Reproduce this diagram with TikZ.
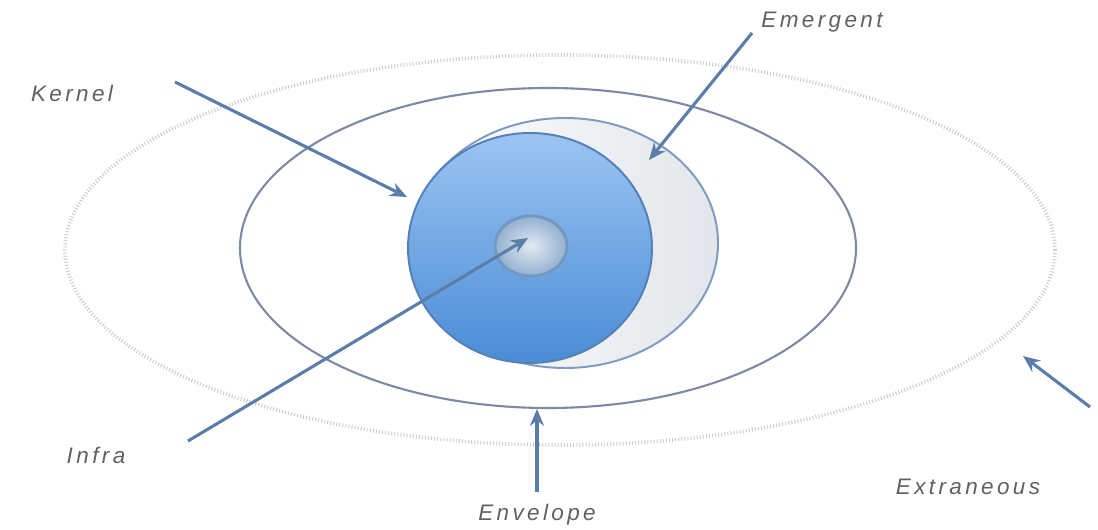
\documentclass[tikz,border=0pt]{standalone}
\usepackage{fontspec}
\setmainfont{Liberation Sans}
\usetikzlibrary{shapes.geometric,arrows.meta}
\definecolor{bleufleche}{HTML}{5A7EA8}
\definecolor{bleuhaut}{HTML}{9CC4F2}
\definecolor{bleubas}{HTML}{4A8CD6}
\definecolor{bleubord}{HTML}{5580B8}
\definecolor{pale}{HTML}{E3EAF3}
\definecolor{paleborder}{HTML}{7F9BBF}
\definecolor{gristrait}{HTML}{7D8AA3}
\begin{document}
\begin{tikzpicture}[x=0.025cm,y=-0.025cm]
	% Styles
	\tikzstyle{fleche}=[-{Stealth[length=12pt,width=10pt]},line width=2.2pt,bleufleche]
	\tikzstyle{etiquette}=[font=\itshape\fontsize{16}{18}\selectfont\addfontfeatures{LetterSpace=15},text=black!62]
	\tikzstyle{zone}=[ellipse,inner sep=0pt,outer sep=0pt]
	% Dimensions
	\def\px{0.025cm}
	\useasboundingbox (0,0) rectangle (1098,530);
	% Zones
	\node[zone,draw=black!20,line width=2.6pt,dash pattern=on 0.7pt off 1.5pt,
		minimum width=990*\px,minimum height=390*\px] (exterieur) at (560,250) {};
	\node[zone,draw=gristrait,line width=1.5pt,
		minimum width=616*\px,minimum height=320*\px] (enveloppe) at (548,248) {};
	\node[zone,draw=paleborder,line width=1.4pt,left color=white,right color=pale!80!gray!60,
		minimum width=306*\px,minimum height=250*\px] (emergent) at (565,243) {};
	\node[zone,draw=bleubord,line width=1.4pt,top color=bleuhaut,bottom color=bleubas,
		minimum width=244*\px,minimum height=230*\px] (noyau) at (530,248) {};
	\node[zone,draw=paleborder!80!bleubas,line width=2pt,inner color=pale,outer color=bleuhaut!70!gray,
		minimum width=72*\px,minimum height=60*\px] (infra) at (531,246) {};
	% Etiquettes
	\node[etiquette] (lKernel) at (72,93) {Kernel};
	\node[etiquette] (lEmergent) at (822,22) {Emergent};
	\node[etiquette] (lInfra) at (96,455) {Infra};
	\node[etiquette] (lEnvelope) at (537,515) {Envelope};
	\node[etiquette] (lExtraneous) at (968,487) {Extraneous};
	% Points
	\coordinate (tKernel) at (175,82);
	\coordinate (hKernel) at (407,197);
	\coordinate (tEmergent) at (752,33);
	\coordinate (hEmergent) at (649,160);
	\coordinate (tInfra) at (188,441);
	\coordinate (hInfra) at (528,238);
	\coordinate (tEnvelope) at (537,492);
	\coordinate (hEnvelope) at (537,409);
	\coordinate (tExtraneous) at (1090,407);
	\coordinate (hExtraneous) at (1023,356);
	% Fleches
	\draw[fleche] (tKernel)--(hKernel);
	\draw[fleche] (tEmergent)--(hEmergent);
	\draw[fleche] (tInfra)--(hInfra);
	\draw[fleche] (tEnvelope)--(hEnvelope);
	\draw[fleche] (tExtraneous)--(hExtraneous);
\end{tikzpicture}
\end{document}
